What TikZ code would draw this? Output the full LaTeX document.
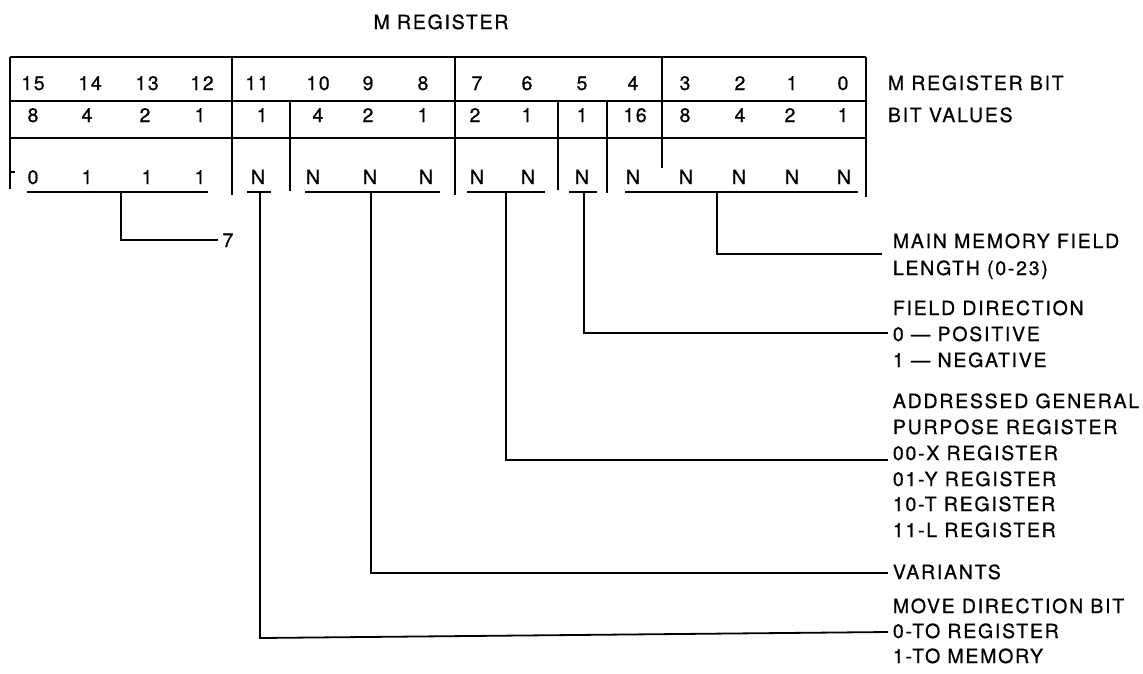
\documentclass[tikz,border=0pt]{standalone}
\usepackage{fontspec}
\setmainfont{TeX Gyre Heros}[LetterSpace=9,FakeBold=0.8]
\begin{document}
\begin{tikzpicture}[x=1pt,y=-1pt,line width=1.8pt,
  txt/.style={inner sep=0pt,font=\fontsize{19.5}{23}\selectfont,text height=14pt,text depth=0pt},
  lab/.style={txt,anchor=west},
  wire/.style={line width=1.8pt}]
\useasboundingbox (0,0) rectangle (1143,673);
% title
\node[txt] (title) at (441,22) {M REGISTER};
% box
\draw (10,57) -- (866,57);
\draw (10,101) -- (866,101);
\draw (10,138) -- (866,138);
\draw (10,57) -- (10,189);
\draw (10,172) -- (15,172);
\draw (866,57) -- (866,197);
\draw (232,57) -- (232,195);
\draw (455,57) -- (455,195);
\draw (662,57) -- (662,168);
\draw (290,101) -- (290,191);
\draw (558,101) -- (558,190);
\draw (607,101) -- (607,193);
% row 1
\foreach \x/\b in {33/15,90/14,147/13,202/12,257/11,318/10,368/9,423/8,477/7,527/6,582/5,633/4,685/3,740/2,792/1,843/0}
  \node[txt] (bit\b) at (\x,83) {\b};
% row 2
\foreach \x/\b/\v in {33/15/8,87/14/4,145/13/2,200/12/1,262/11/1,318/10/4,368/9/2,423/8/1,475/7/2,527/6/1,582/5/1,635/4/16,685/3/8,740/2/4,790/1/2,843/0/1}
  \node[txt] (val\b) at (\x,115) {\v};
% row 3
\foreach \x/\b/\v in {33/15/0,87/14/1,147/13/1,200/12/1,258/11/N,313/10/N,370/9/N,426/8/N,477/7/N,528/6/N,582/5/N,633/4/N,686/3/N,739/2/N,792/1/N,844/0/N}
  \node[txt] (set\b) at (\x,177) {\v};
% right headings
\node[lab] (hbit) at (887,83) {M REGISTER BIT};
\node[lab] (hval) at (887,115) {BIT VALUES};
% underlines
\draw (27,192) -- (208,192);
\draw (247,192) -- (271,192);
\draw (305,192) -- (440,192);
\draw (467,192) -- (545,192);
\draw (569,192) -- (597,192);
\draw (625,192) -- (858,192);
% labels
\node[txt] (seven) at (228,240) {7};
\node[lab] (mm1) at (892,241) {MAIN MEMORY FIELD};
\node[lab] (mm2) at (892,268) {LENGTH (0-23)};
\node[lab] (fd1) at (892,308) {FIELD DIRECTION};
\node[lab] (fd2) at (892,334) {0 — POSITIVE};
\node[lab] (fd3) at (892,360) {1 — NEGATIVE};
\node[lab] (ag1) at (892,401) {ADDRESSED GENERAL};
\node[lab] (ag2) at (892,427) {PURPOSE REGISTER};
\node[lab] (ag3) at (892,453) {00-X REGISTER};
\node[lab] (ag4) at (892,479) {01-Y REGISTER};
\node[lab] (ag5) at (892,504) {10-T REGISTER};
\node[lab] (ag6) at (892,530) {11-L REGISTER};
\node[lab] (var) at (892,572) {VARIANTS};
\node[lab] (md1) at (892,606) {MOVE DIRECTION BIT};
\node[lab] (md2) at (892,631) {0-TO REGISTER};
\node[lab] (md3) at (892,656) {1-TO MEMORY};
% connectors
\coordinate (s1) at (121,192);
\coordinate (e1) at (218,240);
\coordinate (s2) at (260,192);
\coordinate (c2) at (260,638);
\coordinate (e2) at (888,632);
\coordinate (s3) at (371,192);
\coordinate (e3) at (888,573);
\coordinate (s4) at (506,192);
\coordinate (e4) at (888,460);
\coordinate (s5) at (584,192);
\coordinate (e5) at (888,333);
\coordinate (s6) at (717,192);
\coordinate (e6) at (882,254);
\draw[wire] (s1) |- (e1);
\draw[wire] (s2) -- (c2) -- (e2);
\draw[wire] (s3) |- (e3);
\draw[wire] (s4) |- (e4);
\draw[wire] (s5) |- (e5);
\draw[wire] (s6) |- (e6);
\end{tikzpicture}
\end{document}
